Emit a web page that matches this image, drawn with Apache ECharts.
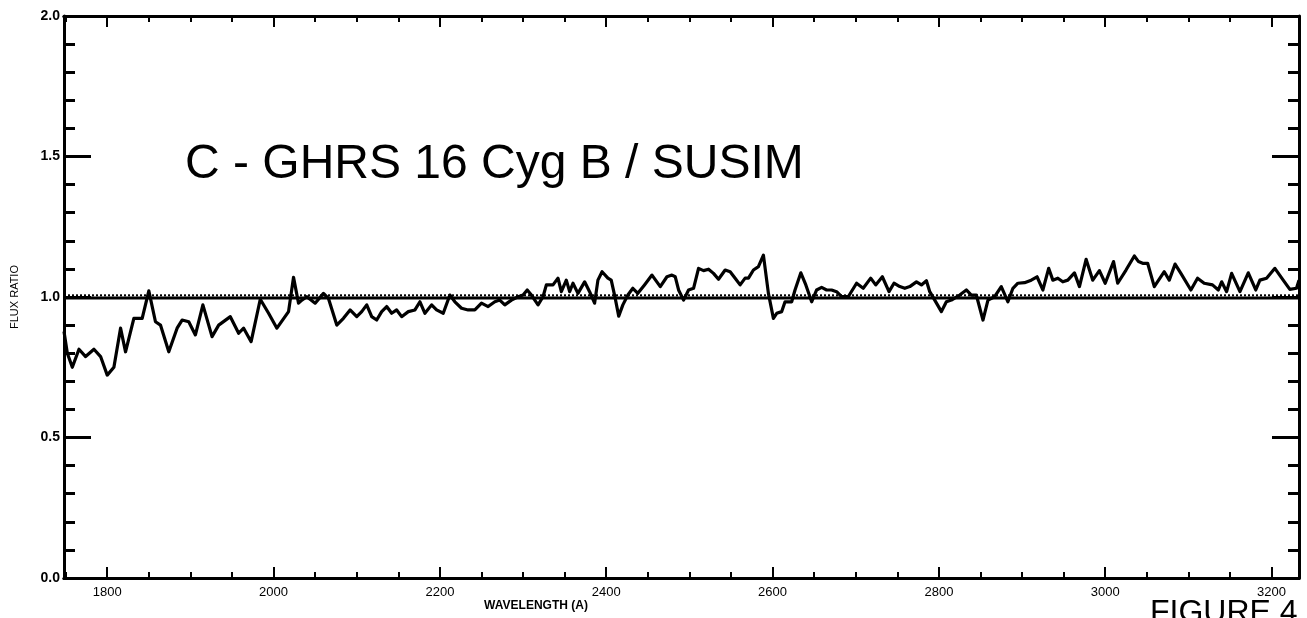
<!DOCTYPE html>
<html><head><meta charset="utf-8">
<script src="https://cdn.jsdelivr.net/npm/echarts@6/dist/echarts.min.js"></script>
<style>html,body{margin:0;padding:0;background:#fff}#c{width:1307px;height:618px}</style>
</head><body><div id="c"></div>
<script>
const wavelength = [1748,1752,1758,1766,1774,1784,1792,1800,1808,1816,1822,1832,1842,1850,1858,1864,1874,1884,1890,1898,1906,1915,1926,1934,1948,1958,1964,1973,1984,1994,2004,2018,2024,2030,2034,2040,2050,2060,2066,2076,2084,2092,2100,2106,2112,2118,2124,2130,2136,2142,2148,2154,2162,2170,2176,2182,2190,2196,2204,2212,2218,2226,2234,2242,2250,2258,2266,2272,2278,2286,2294,2300,2305,2310,2318,2324,2328,2336,2342,2346,2352,2356,2360,2366,2374,2380,2386,2390,2395,2402,2406,2410,2415,2420,2426,2432,2438,2446,2455,2465,2473,2479,2483,2487,2493,2499,2505,2511,2517,2523,2529,2535,2543,2549,2555,2561,2567,2571,2577,2583,2589,2595,2601,2605,2611,2615,2623,2627,2634,2640,2647,2653,2659,2665,2671,2677,2683,2691,2701,2709,2718,2724,2732,2740,2746,2753,2759,2765,2773,2779,2785,2789,2795,2803,2809,2815,2825,2833,2839,2845,2853,2859,2867,2875,2883,2889,2895,2903,2911,2918,2925,2932,2937,2943,2949,2955,2963,2969,2977,2985,2993,3000,3010,3015,3025,3035,3040,3045,3051,3059,3071,3077,3084,3091,3103,3111,3119,3129,3136,3140,3146,3152,3162,3172,3181,3186,3194,3204,3214,3222,3230,3233];
const fluxRatio = [0.877,0.80,0.75,0.814,0.788,0.814,0.788,0.722,0.75,0.889,0.805,0.924,0.924,1.022,0.912,0.90,0.805,0.889,0.918,0.912,0.865,0.972,0.859,0.90,0.93,0.871,0.889,0.841,0.992,0.942,0.889,0.948,1.07,0.978,0.989,1.001,0.978,1.013,0.995,0.90,0.924,0.954,0.93,0.948,0.972,0.93,0.918,0.948,0.966,0.942,0.954,0.93,0.948,0.954,0.983,0.942,0.972,0.954,0.942,1.007,0.983,0.96,0.954,0.954,0.978,0.966,0.983,0.989,0.972,0.989,1.001,1.007,1.025,1.007,0.972,1.001,1.043,1.043,1.067,1.019,1.06,1.019,1.049,1.013,1.054,1.019,0.978,1.06,1.09,1.067,1.06,1.007,0.932,0.972,1.007,1.031,1.013,1.043,1.078,1.037,1.072,1.078,1.072,1.025,0.989,1.025,1.031,1.102,1.094,1.099,1.084,1.063,1.096,1.09,1.067,1.043,1.067,1.067,1.096,1.108,1.149,1.013,0.924,0.942,0.948,0.983,0.983,1.025,1.086,1.043,0.983,1.025,1.034,1.025,1.025,1.019,1.001,1.001,1.049,1.031,1.067,1.043,1.072,1.019,1.049,1.037,1.031,1.037,1.054,1.043,1.058,1.019,0.989,0.948,0.983,0.989,1.007,1.025,1.007,1.007,0.918,0.989,1.001,1.037,0.983,1.031,1.049,1.051,1.06,1.072,1.025,1.102,1.06,1.067,1.054,1.06,1.086,1.037,1.134,1.06,1.094,1.049,1.126,1.049,1.096,1.146,1.126,1.12,1.12,1.037,1.09,1.06,1.117,1.084,1.025,1.067,1.049,1.043,1.025,1.054,1.019,1.084,1.019,1.086,1.025,1.06,1.067,1.102,1.06,1.027,1.031,1.06];
const xMajorTicks = [1800,2000,2200,2400,2600,2800,3000,3200];
const xMinorTicks = [1750,1850,1900,1950,2050,2100,2150,2250,2300,2350,2450,2500,2550,2650,2700,2750,2850,2900,2950,3050,3100,3150,3200];
const yTickLabels = ['0.0','0.5','1.0','1.5','2.0'];
const refLevel = 1.0;
const xMin = 1748, xMax = 3233;

const font = '"Liberation Sans", Arial, sans-serif';
const chart = echarts.init(document.getElementById('c'));
const axisLine = {show:true, lineStyle:{color:'#000', width:3}};
function xAx(pos, ticks, len, labels){
  return {type:'value', position:pos, min:xMin, max:xMax, splitLine:{show:false},
    axisLine: axisLine,
    axisTick:{show:true, inside:true, length:len, customValues:ticks, lineStyle:{color:'#000', width:2}},
    axisLabel: labels ? {show:true, customValues:ticks, color:'#000', fontFamily:font, fontSize:13, margin:8,
      formatter:(v)=>String(Math.round(v))} : {show:false}};
}
function yAx(pos, labels){
  return {type:'value', position:pos, min:0, max:2, interval:0.5, splitLine:{show:false},
    axisLine: axisLine,
    axisTick:{show:true, inside:true, length:27, lineStyle:{color:'#000', width:3}},
    minorTick:{show:true, splitNumber:5, length:11, lineStyle:{color:'#000', width:3}},
    axisLabel: labels ? {show:true, color:'#000', fontFamily:font, fontSize:14, fontWeight:'bold', margin:4,
      formatter:(v)=>yTickLabels[Math.round(v/0.5)]} : {show:false}};
}
chart.setOption({
  animation:false,
  backgroundColor:'#fff',
  grid:{left:64, right:8, top:16, bottom:40, containLabel:false},
  xAxis:[xAx('bottom', xMajorTicks, 11, true), xAx('bottom', xMinorTicks, 6, false),
         xAx('top', xMajorTicks, 11, false), xAx('top', xMinorTicks, 6, false)],
  yAxis:[yAx('left', true), yAx('right', false)],
  graphic:[
    {type:'text', left:185, top:141, style:{text:'C - GHRS 16 Cyg B / SUSIM', fontFamily:font, fontSize:48, fill:'#000'}},
    {type:'text', x:15, y:297, rotation:Math.PI/2, style:{text:'FLUX RATIO', fontFamily:font, fontSize:11, fill:'#000', align:'center', verticalAlign:'middle'}},
    {type:'text', x:536, y:606, style:{text:'WAVELENGTH (A)', fontFamily:font, fontSize:12, fontWeight:'bold', fill:'#000', align:'center', verticalAlign:'middle'}},
    {type:'text', left:1150, top:597, style:{text:'FIGURE 4', fontFamily:font, fontSize:32, fill:'#000'}}
  ],
  series:[
    {type:'line', xAxisIndex:0, yAxisIndex:0, data:[[xMin, refLevel+0.006],[xMax, refLevel+0.006]], symbol:'none',
      lineStyle:{color:'#000', width:2, type:[2,2]}, z:2},
    {type:'line', xAxisIndex:0, yAxisIndex:0, data:[[xMin, refLevel-0.004],[xMax, refLevel-0.004]], symbol:'none',
      lineStyle:{color:'#000', width:3}, z:2},
    {type:'line', xAxisIndex:0, yAxisIndex:0, data:wavelength.map((w,i)=>[w, fluxRatio[i]]), symbol:'none',
      lineStyle:{color:'#000', width:3.2, join:'round'}, z:3}
  ]
});
</script></body></html>
